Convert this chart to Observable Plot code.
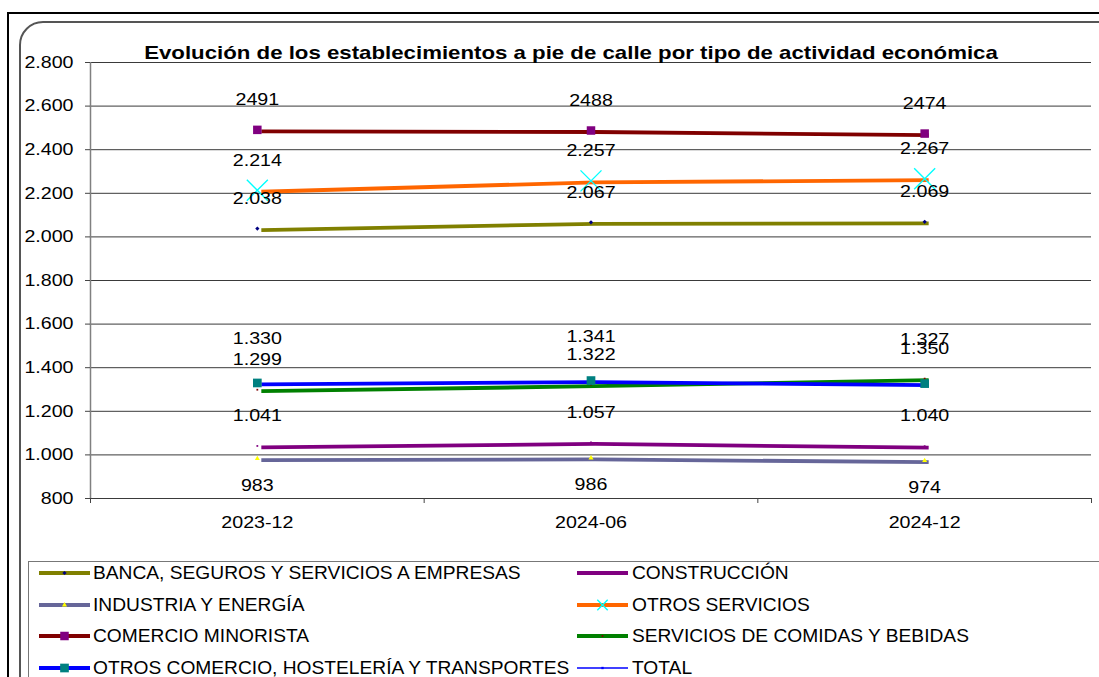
<!DOCTYPE html>
<html><head><meta charset="utf-8">
<script src="https://cdn.jsdelivr.net/npm/d3@7"></script>
<script src="https://cdn.jsdelivr.net/npm/@observablehq/plot@0.6"></script>
<style>
html,body{margin:0;padding:0;background:#fff;width:1099px;height:677px;overflow:hidden;font-family:"Liberation Sans",Arial,sans-serif;color:#000;}
#outer{position:absolute;left:7px;top:12px;width:2000px;height:2000px;border:2px solid #000;}
#inner{position:absolute;left:19px;top:21px;width:2000px;height:2000px;border:2px solid #555;border-top-left-radius:24px;}
#title{position:absolute;left:0;width:1142px;text-align:center;top:43px;font-weight:bold;font-size:19px;line-height:19px;white-space:nowrap;transform:scaleX(1.17);transform-origin:571px 0;}
#chart{position:absolute;left:0;top:0;}
#legendbox{position:absolute;left:28px;top:561px;width:2000px;height:2000px;border:1px solid #777;}
.item{position:absolute;display:flex;align-items:center;height:24px;font-size:19.2px;white-space:nowrap;}
.item svg{display:block;}
</style></head>
<body>
<div id="outer"></div>
<div id="inner"></div>
<div id="chart"></div>
<div id="title">Evolución de los establecimientos a pie de calle por tipo de actividad económica</div>
<div id="legendbox"></div>
<div id="legend"></div>
<script>
// ---- data ----
const periods = ["2023-12", "2024-06", "2024-12"];
const seriesNames = [
  "BANCA, SEGUROS Y SERVICIOS A EMPRESAS",
  "CONSTRUCCIÓN",
  "INDUSTRIA Y ENERGÍA",
  "OTROS SERVICIOS",
  "COMERCIO MINORISTA",
  "SERVICIOS DE COMIDAS Y BEBIDAS",
  "OTROS COMERCIO, HOSTELERÍA Y TRANSPORTES",
  "TOTAL"
];
const banca = [2038, 2067, 2069];
const construccion = [1041, 1057, 1040];
const industria = [983, 986, 974];
const otrosServicios = [2214, 2257, 2267];
const comercioMinorista = [2491, 2488, 2474];
const comidasBebidas = [1299, 1322, 1350];
const otrosComercio = [1330, 1341, 1327];
const total = [];
const yTicks = [800, 1000, 1200, 1400, 1600, 1800, 2000, 2200, 2400, 2600, 2800];

// ---- styles ----
const esFmt = d3.formatLocale({decimal: ",", thousands: ".", grouping: [3], currency: ["", "€"]}).format(",d");
const plainFmt = d3.format("d");
const styles = [
  {values: banca, line: "#808000", width: 3.8, symbol: "diamond2", fill: "#000080", stroke: "none", r: 1.9, lr: 1.9, labelDy: -30, fmt: esFmt},
  {values: construccion, line: "#800080", width: 3.8, symbol: "square", fill: "#800080", stroke: "none", r: 1.0, lr: 1.0, labelDy: -30, fmt: esFmt},
  {values: industria, line: "#666699", width: 3.8, symbol: "triangle2", fill: "#FFFF00", stroke: "none", r: 2.4, lr: 2.4, labelDy: 27, fmt: esFmt},
  {values: otrosServicios, line: "#FF6600", width: 3.8, symbol: "times", fill: "none", stroke: "#00FFFF", r: 9.6, lr: 4.8, labelDy: -30, fmt: esFmt},
  {values: comercioMinorista, line: "#800000", width: 3.8, symbol: "square", fill: "#800080", stroke: "none", r: 4.8, lr: 4.8, labelDy: -30, fmt: plainFmt},
  {values: comidasBebidas, line: "#008000", width: 3.8, symbol: "square", fill: "#800000", stroke: "none", r: 1.0, lr: 1.0, labelDy: -30, fmt: esFmt},
  {values: otrosComercio, line: "#0000FF", width: 3.8, symbol: "square", fill: "#008080", stroke: "none", r: 4.9, lr: 4.9, labelDy: -44, fmt: esFmt},
  {values: total, line: "#0000FF", width: 1.5, symbol: "square", fill: "#0000FF", stroke: "none", r: 1.2, lr: 1.3, labelDy: -30, fmt: esFmt}
];

const rowsOf = (s, k) => s.values.map((v, i) => ({series: seriesNames[k], i, v}));

const marks = [
  Plot.gridY({ticks: yTicks, stroke: "#3a3a3a", strokeOpacity: 1, strokeWidth: 1}),
  Plot.ruleX([0], {stroke: "#808080", strokeWidth: 1.5}),
  Plot.axisY({ticks: yTicks, tickSize: 5, tickPadding: 12, tickFormat: esFmt, stroke: "#444", label: null}),
  Plot.axisX({ticks: [0, 1, 2, 3], tickSize: 5, tickFormat: () => "", stroke: "#444", label: null}),
  Plot.axisX({ticks: periods.map((p, i) => i + 0.5), tickSize: 0, tickPadding: 18, tickFormat: d => periods[Math.floor(d)], label: null})
];
styles.forEach((s, k) => {
  const rows = rowsOf(s, k);
  marks.push(Plot.line(rows, {x: d => d.i + 0.5, y: "v", stroke: s.line, strokeWidth: s.width, strokeLinecap: "butt", strokeLinejoin: "round", dx: 4, dy: 1.5}));
});
styles.forEach((s, k) => {
  const rows = rowsOf(s, k);
  marks.push(Plot.dot(rows, {x: d => d.i + 0.5, y: "v", symbol: s.symbol, r: s.r, fill: s.fill, stroke: s.stroke, strokeWidth: 1.4}));
});
styles.forEach((s, k) => {
  const rows = rowsOf(s, k);
  marks.push(Plot.text(rows, {x: d => d.i + 0.5, y: "v", text: d => s.fmt(d.v), dy: s.labelDy, fill: "#000"}));
});

const plot = Plot.plot({
  width: 1099, height: 545,
  marginLeft: 90, marginRight: 8, marginTop: 62, marginBottom: 47,
  style: {background: "transparent", fontFamily: "Liberation Sans, Arial, sans-serif", fontSize: "16.5px", color: "#000", overflow: "visible"},
  x: {type: "linear", domain: [0, periods.length]},
  y: {domain: [800, 2800]},
  marks
});
// widen glyphs horizontally like the original (anchor preserved)
const sx = 1.19;
plot.querySelectorAll("text").forEach(t => {
  const tr = t.getAttribute("transform");
  if (tr) t.setAttribute("transform", `${tr} scale(${sx},1)`);
});
document.getElementById("chart").appendChild(plot);

// ---- legend ----
const symbolMap = {diamond2: d3.symbolDiamond2, square: d3.symbolSquare, triangle2: d3.symbolTriangle2, times: d3.symbolTimes};
const legendCols = [39, 577];
const legendRows = [573, 605, 636, 668];
const legend = document.getElementById("legend");
styles.forEach((s, k) => {
  const col = k % 2, row = Math.floor(k / 2);
  const div = document.createElement("div");
  div.className = "item";
  div.style.left = legendCols[col] + "px";
  div.style.top = (legendRows[row] - 12) + "px";
  const path = d3.symbol(symbolMap[s.symbol], Math.PI * s.lr * s.lr)();
  const sw = 51;
  div.innerHTML = `<svg width="${sw}" height="24"><line x1="0" x2="${sw}" y1="12" y2="12" stroke="${s.line}" stroke-width="${s.width}"/>` +
    `<path d="${path}" transform="translate(${sw / 2},12)" fill="${s.fill}" stroke="${s.stroke}" stroke-width="1.4"/></svg>` +
    `<span style="margin-left:${col ? 4 : 3}px">${seriesNames[k]}</span>`;
  legend.appendChild(div);
});
</script>
</body></html>
